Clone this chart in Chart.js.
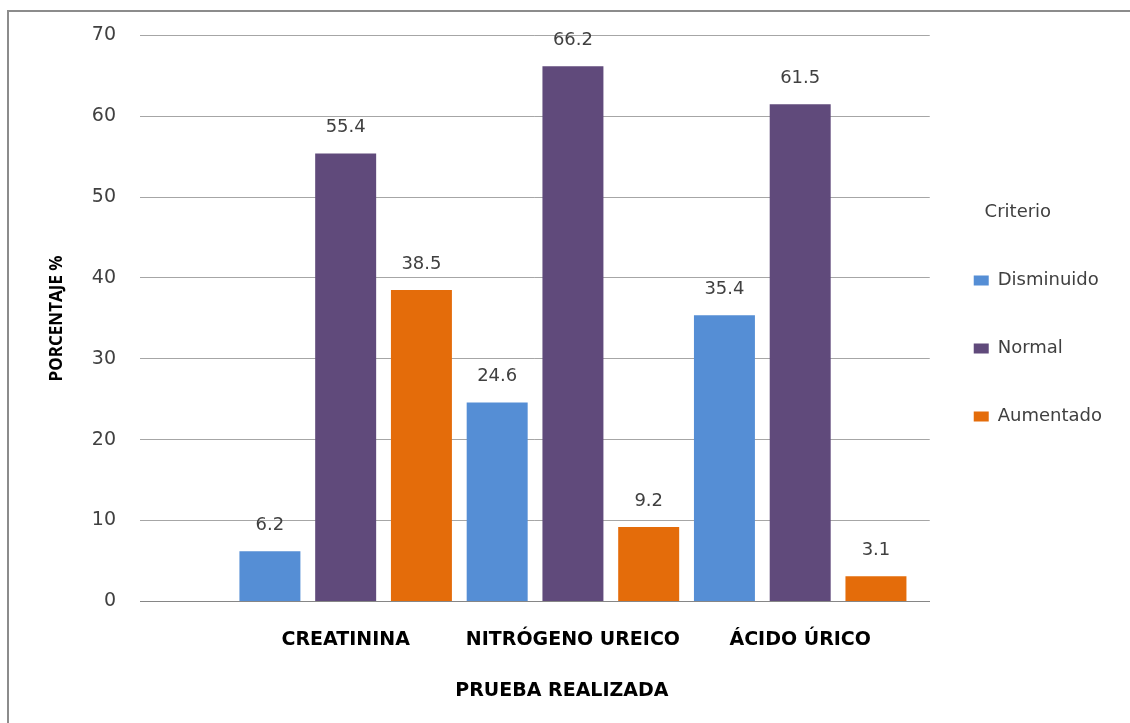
<!DOCTYPE html>
<html>
<head>
<meta charset="utf-8">
<script src="https://cdn.jsdelivr.net/npm/chart.js@4.4.0/dist/chart.umd.min.js"></script>
<style>
html,body{margin:0;padding:0;background:#fff;overflow:hidden}
#frame{position:absolute;left:7px;top:10px;width:1200px;height:800px;border:2px solid #8c8c8c}
#wrap{position:absolute;left:0;top:0;width:1130px;height:723px}
</style>
</head>
<body>
<div id="frame"></div>
<div id="wrap"><canvas id="chart"></canvas></div>
<script>
const categories = ["CREATININA", "NITRÓGENO UREICO", "ÁCIDO ÚRICO"];
const disminuido = [6.2, 24.6, 35.4];
const normal = [55.4, 66.2, 61.5];
const aumentado = [38.5, 9.2, 3.1];
const seriesNames = ["Disminuido", "Normal", "Aumentado"];
const seriesColors = ["#558ED5", "#604A7B", "#E46C0A"];
const xTitle = "PRUEBA REALIZADA";

const SANS = "'DejaVu Sans', Verdana, sans-serif";

// bars sit on a linear x axis so the empty space left of the first group can be kept
const toPoints = arr => arr.map((v, i) => ({ x: i + 1, y: v }));

// value labels over each bar
const valueLabels = {
  id: "valueLabels",
  afterDatasetsDraw(chart) {
    const ctx = chart.ctx;
    ctx.save();
    ctx.font = "18px " + SANS;
    ctx.fillStyle = "#404040";
    ctx.textAlign = "center";
    ctx.textBaseline = "alphabetic";
    chart.data.datasets.forEach((ds, di) => {
      chart.getDatasetMeta(di).data.forEach((bar, i) => {
        ctx.fillText(ds.data[i].y.toFixed(1), bar.x, bar.y - 21);
      });
    });
    ctx.restore();
  }
};

// x title sits a bit right of the plot centre in the original
const xTitleDraw = {
  id: "xTitleDraw",
  afterDraw(chart) {
    const ctx = chart.ctx, a = chart.chartArea;
    ctx.save();
    ctx.font = "bold 19px " + SANS;
    ctx.fillStyle = "#000";
    ctx.textAlign = "center";
    ctx.textBaseline = "middle";
    ctx.fillText(xTitle, (a.left + a.right) / 2 + 27, chart.scales.x.bottom - 15);
    ctx.restore();
  }
};

// pull the legend a little closer to the plot, like the original
const legendNudge = {
  id: "legendNudge",
  afterLayout(chart) { if (chart.legend) chart.legend.left -= 6; }
};

new Chart(document.getElementById("chart"), {
  type: "bar",
  data: {
    datasets: [
      { label: seriesNames[0], data: toPoints(disminuido), backgroundColor: seriesColors[0] },
      { label: seriesNames[1], data: toPoints(normal), backgroundColor: seriesColors[1] },
      { label: seriesNames[2], data: toPoints(aumentado), backgroundColor: seriesColors[2] }
    ]
  },
  options: {
    responsive: true, maintainAspectRatio: false, animation: false,
    layout: { padding: { left: 43, top: 16, right: 12, bottom: 17 } },
    datasets: { bar: { categoryPercentage: 1.0, barPercentage: 0.805 } },
    plugins: {
      legend: {
        position: "right", align: "start",
        title: { display: true, text: "Criterio", color: "#404040", font: { family: SANS, size: 18 }, padding: { top: 187, bottom: -3 } },
        labels: { color: "#404040", font: { family: SANS, size: 18 }, boxWidth: 15, boxHeight: 10, padding: 50 }
      },
      tooltip: { enabled: false }
    },
    scales: {
      x: {
        type: "linear", min: 0.095, max: 3.57, offset: false,
        afterBuildTicks: s => { s.ticks = categories.map((c, i) => ({ value: i + 1 })); },
        grid: { display: false, drawTicks: false },
        border: { display: true, color: "#868686", width: 1 },
        ticks: { padding: 27, maxRotation: 0, autoSkip: false, color: "#000", font: { family: SANS, size: 19, weight: "bold" }, callback: v => categories[v - 1] || "" },
        // keeps the room for the title; the text itself is drawn by xTitleDraw
        title: { display: true, text: xTitle, color: "rgba(0,0,0,0)", font: { family: SANS, size: 19, weight: "bold" }, padding: { top: 1, bottom: 4 } }
      },
      y: {
        min: 0, max: 70,
        afterFit: s => { s.width = 97; },
        grid: { color: "#a6a6a6", drawTicks: false },
        border: { display: false },
        ticks: { stepSize: 10, padding: 24, color: "#404040", font: { family: SANS, size: 19 } },
        title: { display: true, text: "PORCENTAJE %", color: "#000", font: { family: "'Liberation Sans Narrow', 'Open Sans', sans-serif", size: 17, weight: "bold" }, padding: { top: 4, bottom: 4 } }
      }
    }
  },
  plugins: [valueLabels, xTitleDraw, legendNudge]
});
</script>
</body>
</html>
